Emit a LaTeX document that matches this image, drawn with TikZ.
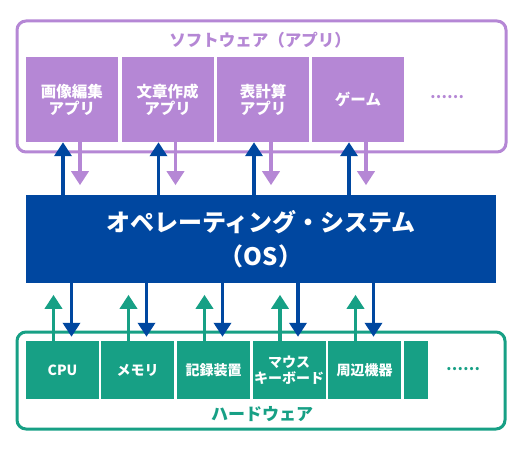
\documentclass[tikz,border=0pt]{standalone}
\usepackage{fontspec}
\usepackage{xcolor}
\usepackage{tikz}
\setmainfont{Noto Sans CJK JP}
\usetikzlibrary{arrows.meta}
\definecolor{osblue}{RGB}{0, 71, 160}
\definecolor{swpurple}{RGB}{181, 135, 213}
\definecolor{hwgreen}{RGB}{23, 160, 133}

\begin{document}
\begin{tikzpicture}[x=1pt, y=-1pt,
    group/.style={rectangle, rounded corners=9pt, line width=3pt, fill=white, inner sep=0pt},
    app/.style={rectangle, fill=swpurple, text=white, minimum width=92pt, minimum height=85pt, inner sep=0pt, align=center, font=\fontsize{15.5}{17}\selectfont\bfseries},
    device/.style={rectangle, fill=hwgreen, text=white, minimum width=73pt, minimum height=58pt, inner sep=0pt, align=center, font=\fontsize{14}{15.5}\selectfont\bfseries},
    os/.style={rectangle, fill=osblue, text=white, minimum width=470pt, minimum height=88pt, inner sep=0pt, align=center, font=\fontsize{24}{34}\selectfont\bfseries},
    grouptitle/.style={font=\fontsize{16.5}{18}\selectfont\bfseries},
    more/.style={font=\fontsize{15}{17}\selectfont\bfseries, text=white},
    uparrow/.style={line width=3.5pt, -{Triangle[width=17pt, length=14pt]}},
    downarrow/.style={line width=3.5pt, -{Triangle[width=17pt, length=14pt]}}
]
    \useasboundingbox (0,0) rectangle (523,452);

    % Software
    \node[group, draw=swpurple, minimum width=489pt, minimum height=131pt] (sw) at (261.5,86.5) {};
    \node[grouptitle, text=swpurple] (swtitle) at (260,40) {ソフトウェア（アプリ）};
    \node[app] (a1) at (72,99.5) {画像編集\\アプリ};
    \node[app] (a2) at (167.5,99.5) {文章作成\\アプリ};
    \node[app] (a3) at (263,99.5) {表計算\\アプリ};
    \node[app] (a4) at (358,99.5) {ゲーム};
    \node[more, text=swpurple] (amore) at (447,97) {……};

    % OS
    \node[os] (os) at (261,239) {オペレーティング・システム\\（OS）};

    % Hardware
    \node[group, draw=hwgreen, minimum width=488pt, minimum height=97pt] (hw) at (261,380.5) {};
    \node[grouptitle, text=hwgreen, font=\fontsize{17}{18}\selectfont\bfseries] (hwtitle) at (262,414) {ハードウェア};
    \node[device] (d1) at (62.5,370) {CPU};
    \node[device] (d2) at (137.5,370) {メモリ};
    \node[device] (d3) at (213.5,370) {記録装置};
    \node[device] (d4) at (289,370) {マウス\\キーボード};
    \node[device] (d5) at (364.5,370) {周辺機器};
    \node[device, minimum width=24pt] (d6) at (416,370) {};
    \node[more, text=hwgreen] (dmore) at (463,369) {……};

    % Arrows
    \foreach \n in {a1,a2,a3,a4}{
        \draw[uparrow, osblue] ([xshift=-9pt]\n.south |- os.north) -- ([xshift=-9pt]\n.south);
        \draw[downarrow, swpurple] ([xshift=8pt]\n.south) -- ++(0,43);
    }
    \foreach \n in {d1,d2,d3,d4,d5}{
        \draw[uparrow, hwgreen] ([xshift=-9pt]\n.north) -- ++(0,-46);
        \draw[downarrow, osblue] ([xshift=9pt]\n.north |- os.south) -- ([xshift=9pt,yshift=4pt]\n.north);
    }
\end{tikzpicture}
\end{document}
